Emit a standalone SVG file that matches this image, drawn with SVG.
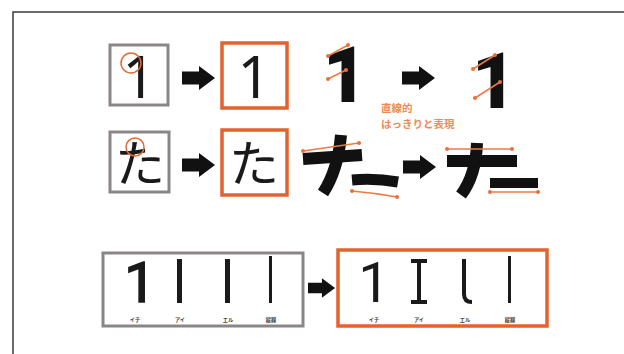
<svg xmlns="http://www.w3.org/2000/svg" width="624" height="354" viewBox="0 0 624 354">
<style>
.frame{fill:none;stroke:#3a3a3a;stroke-width:1.5}
.gbox{fill:#fff;stroke:#8a8686;stroke-width:3}
.obox{fill:#fff;stroke:#e5622e;stroke-width:3.5}
.thin{font-family:"Noto Sans","Liberation Sans",sans-serif;fill:#1a1a1a}
.mid{font-family:Roboto,"Liberation Sans",sans-serif;fill:#1a1a1a}
.jp{font-family:"Noto Sans CJK JP",sans-serif;fill:#1a1a1a}
.heavy{font-family:Roboto,"Noto Sans",sans-serif;font-weight:900;fill:#111}
.stroke{stroke:#111;fill:none;stroke-linecap:butt}
.oline{stroke:#ec7a45;stroke-width:1.5;fill:none}
.odot{fill:#e9713a}
.ring{fill:none;stroke:#e36a36;stroke-width:1.5}
.note{font-family:"Noto Sans CJK JP",sans-serif;font-size:10.5px;font-weight:bold;fill:#f08a55}
.lbl{font-family:"Noto Sans CJK JP",sans-serif;font-size:5.2px;font-weight:bold;fill:#444;text-anchor:middle}
.arrow{fill:#111}
</style>
<defs>
<path id="arr" d="M0,-6.5 H17 V-12 L33,0 L17,12 V6.5 H0 Z"/>
</defs>
<rect width="624" height="354" fill="#fff"/>
<path class="frame" d="M13,354 V12 H624"/>

<g id="connectors">
<use href="#arr" class="arrow" x="182" y="78"/>
<use href="#arr" class="arrow" x="182" y="165"/>
<use href="#arr" class="arrow" x="402" y="78"/>
<use href="#arr" class="arrow" x="403" y="167"/>
<use href="#arr" class="arrow" transform="translate(308,288) scale(0.82)"/>
</g>

<g id="one-before">
<rect class="gbox" x="110" y="45" width="58" height="60"/>
<text class="thin" x="139" y="98" font-size="58" text-anchor="middle">1</text>
<circle class="ring" cx="131" cy="63" r="10"/>
</g>
<g id="one-after">
<rect class="obox" x="222" y="43" width="65" height="65"/>
<text class="thin" x="254" y="98" font-size="58" text-anchor="middle">1</text>
</g>

<g id="ta-before">
<rect class="gbox" x="110" y="132" width="59" height="60"/>
<text class="jp" x="140" y="182" font-size="50" text-anchor="middle">た</text>
<circle class="ring" cx="135" cy="147" r="9"/>
</g>
<g id="ta-after">
<rect class="obox" x="222" y="130" width="65" height="65"/>
<text class="jp" x="254" y="182" font-size="50" text-anchor="middle">た</text>
</g>

<g id="one-stroke-before">
<text class="heavy" x="345" y="102" font-size="77" text-anchor="middle">1</text>
<line class="oline" x1="328" y1="56" x2="348" y2="45"/>
<circle class="odot" cx="328" cy="56" r="2"/><circle class="odot" cx="348" cy="45" r="2"/>
<line class="oline" x1="328" y1="79" x2="346" y2="70"/>
<circle class="odot" cx="328" cy="79" r="2"/><circle class="odot" cx="346" cy="70" r="2"/>
</g>
<g id="one-stroke-after">
<text class="heavy" x="494" y="108" font-size="77" text-anchor="middle">1</text>
<line class="oline" x1="473" y1="69" x2="495" y2="55"/>
<circle class="odot" cx="473" cy="69" r="2"/><circle class="odot" cx="495" cy="55" r="2"/>
<line class="oline" x1="475" y1="98" x2="500" y2="82"/>
<circle class="odot" cx="475" cy="98" r="2"/><circle class="odot" cx="500" cy="82" r="2"/>
</g>

<g id="note">
<text class="note" x="381" y="112">直線的</text>
<text class="note" x="381" y="128">はっきりと表現</text>
</g>

<g id="ta-stroke-before">
<path class="stroke" d="M303,159 L362,155" stroke-width="12"/>
<path class="stroke" d="M341,135 Q338,170 323,193" stroke-width="12"/>
<path class="stroke" d="M352,180 Q375,178 398,182" stroke-width="11"/>
<line class="oline" x1="303" y1="151" x2="359" y2="143"/>
<circle class="odot" cx="303" cy="151" r="2"/><circle class="odot" cx="359" cy="143" r="2"/>
<path class="oline" d="M352,191 Q375,193 397,197"/>
<circle class="odot" cx="352" cy="191" r="2"/><circle class="odot" cx="397" cy="197" r="2"/>
</g>
<g id="ta-stroke-after">
<path class="stroke" d="M447,161 H517" stroke-width="12"/>
<path class="stroke" d="M477,143 Q476,175 461,195" stroke-width="12"/>
<path class="stroke" d="M490,183 H538" stroke-width="10"/>
<line class="oline" x1="447" y1="149" x2="512" y2="149"/>
<circle class="odot" cx="447" cy="149" r="2"/><circle class="odot" cx="512" cy="149" r="2"/>
<line class="oline" x1="490" y1="192" x2="538" y2="192"/>
<circle class="odot" cx="490" cy="192" r="2"/><circle class="odot" cx="538" cy="192" r="2"/>
</g>

<g id="glyphs-before">
<rect class="gbox" x="103" y="253" width="200" height="73"/>
<text class="mid" x="140" y="302" font-size="56" text-anchor="middle" stroke="#1a1a1a" stroke-width="1.6">1</text>
<rect x="177" y="259" width="5" height="44" fill="#1a1a1a"/>
<rect x="225" y="259" width="5" height="44" fill="#1a1a1a"/>
<rect x="269" y="256" width="3" height="47" fill="#1a1a1a"/>
<text class="lbl" x="135" y="321.5">イチ</text>
<text class="lbl" x="180" y="321.5">アイ</text>
<text class="lbl" x="228" y="321.5">エル</text>
<text class="lbl" x="271" y="321.5">縦線</text>
</g>
<g id="glyphs-after">
<rect class="obox" x="338" y="250" width="209" height="76"/>
<text class="mid" x="374" y="302" font-size="56" text-anchor="middle">1</text>
<path d="M411,261 H427 M419,261 V302 M411,302 H427" stroke="#1a1a1a" stroke-width="4" fill="none"/>
<path d="M464,259 V294 Q464,302 472,302" stroke="#1a1a1a" stroke-width="4" fill="none"/>
<rect x="508" y="256" width="3" height="47" fill="#1a1a1a"/>
<text class="lbl" x="374" y="321.5">イチ</text>
<text class="lbl" x="419" y="321.5">アイ</text>
<text class="lbl" x="465" y="321.5">エル</text>
<text class="lbl" x="510" y="321.5">縦線</text>
</g>
</svg>
